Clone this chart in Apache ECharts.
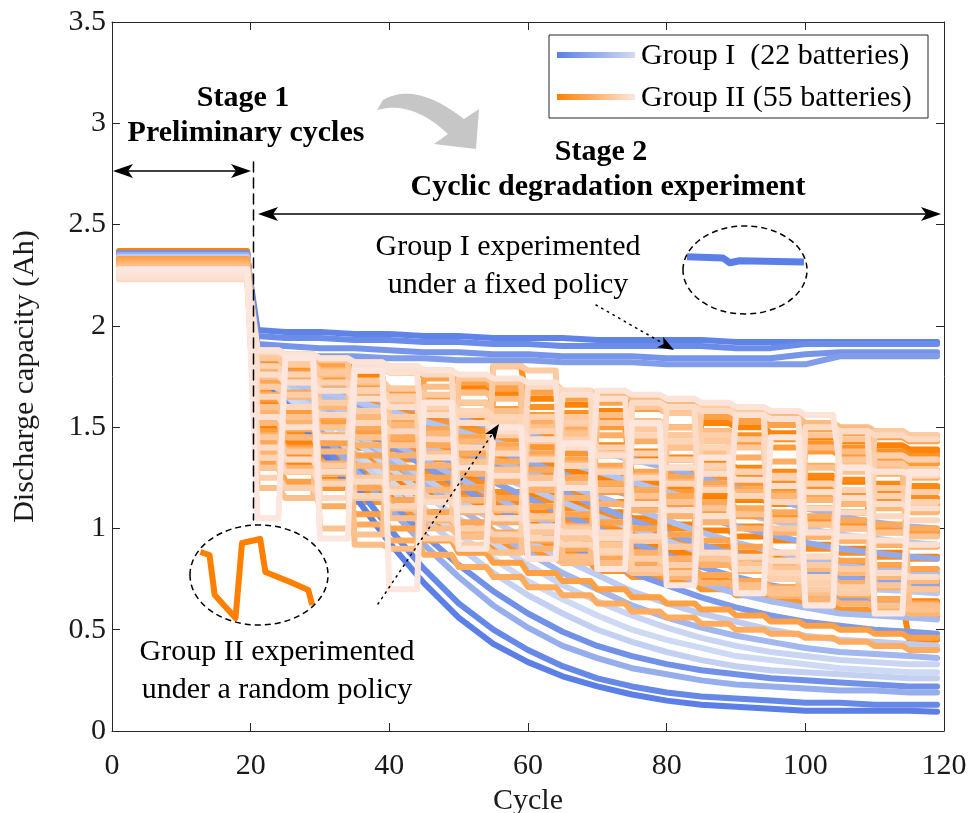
<!DOCTYPE html>
<html><head><meta charset="utf-8">
<script src="https://cdn.jsdelivr.net/npm/echarts@6/dist/echarts.min.js"></script>
<style>html,body{margin:0;padding:0;background:#fff}#c{width:968px;height:813px}</style>
</head><body><div id="c"></div>
<script>
// ---------------- DATA ----------------
const xTickValues = [0, 20, 40, 60, 80, 100, 120];
const yTickValues = [0, 0.5, 1, 1.5, 2, 2.5, 3, 3.5];

// Stage 1 plateau cycles
const stage1Cycles = [1, 19.5];
// Group I sample cycles (stage 2)
const groupICycles = [21,25,30,35,40,45,50,55,60,65,70,75,80,85,90,95,100,105,110,115,119];
// Group II policy segments (stage 2)
const groupIISegStart = [21,25,30,35,40,45,50,55,60,65,70,75,80,85,90,95,100,105,110,115];
const groupIISegEnd   = [24,29,34,39,44,49,54,59,64,69,74,79,84,89,94,99,104,109,114,119];

// Group I (22 batteries): stage-1 level and stage-2 capacities
const groupIStage1 = [2.35,2.33,2.34,2.31,2.36,2.32,2.30,2.33,2.29,2.34,2.31,2.35,2.28,2.32,2.30,2.33,2.29,2.31,2.34,2.30,2.32,2.28];
const groupIStage2 = [
 [1.78,1.62,1.40,1.16,0.93,0.73,0.56,0.43,0.34,0.27,0.22,0.18,0.15,0.13,0.12,0.11,0.10,0.10,0.10,0.10,0.095],
 [1.98,1.97,1.97,1.96,1.96,1.95,1.95,1.94,1.94,1.94,1.93,1.93,1.93,1.93,1.92,1.92,1.92,1.92,1.92,1.92,1.92],
 [1.79,1.64,1.44,1.22,1.00,0.80,0.63,0.50,0.40,0.32,0.26,0.22,0.19,0.17,0.16,0.15,0.14,0.14,0.13,0.13,0.13],
 [1.95,1.94,1.94,1.93,1.93,1.92,1.92,1.91,1.91,1.90,1.90,1.90,1.90,1.90,1.89,1.89,1.91,1.91,1.91,1.91,1.91],
 [1.78,1.65,1.48,1.31,1.13,0.97,0.82,0.69,0.58,0.49,0.42,0.37,0.33,0.30,0.28,0.26,0.25,0.24,0.23,0.22,0.22],
 [1.91,1.90,1.89,1.89,1.88,1.87,1.87,1.86,1.86,1.85,1.85,1.85,1.84,1.84,1.84,1.84,1.86,1.87,1.87,1.87,1.87],
 [1.81,1.72,1.61,1.51,1.41,1.31,1.21,1.11,1.02,0.93,0.85,0.78,0.72,0.66,0.61,0.57,0.54,0.52,0.50,0.49,0.48],
 [1.87,1.86,1.85,1.85,1.84,1.84,1.83,1.83,1.83,1.82,1.82,1.82,1.81,1.81,1.81,1.81,1.81,1.85,1.85,1.85,1.85],
 [1.80,1.73,1.64,1.55,1.47,1.39,1.31,1.23,1.15,1.07,1.00,0.93,0.87,0.81,0.76,0.72,0.69,0.66,0.64,0.63,0.62],
 [1.81,1.75,1.67,1.60,1.53,1.46,1.39,1.32,1.25,1.18,1.11,1.04,0.98,0.92,0.87,0.83,0.79,0.76,0.74,0.73,0.72],
 [1.80,1.75,1.69,1.63,1.57,1.51,1.45,1.39,1.33,1.27,1.21,1.16,1.11,1.06,1.01,0.97,0.93,0.90,0.88,0.86,0.85],
 [1.80,1.66,1.48,1.29,1.10,0.92,0.76,0.62,0.51,0.42,0.36,0.31,0.28,0.25,0.23,0.22,0.21,0.20,0.20,0.19,0.19],
 [1.81,1.77,1.72,1.67,1.62,1.58,1.54,1.50,1.46,1.42,1.38,1.34,1.30,1.25,1.20,1.15,1.10,1.06,1.03,1.01,1.00],
 [1.80,1.70,1.58,1.46,1.34,1.22,1.10,0.99,0.88,0.78,0.70,0.62,0.56,0.51,0.47,0.44,0.41,0.39,0.38,0.37,0.36],
 [1.79,1.71,1.61,1.52,1.43,1.34,1.25,1.16,1.07,0.99,0.92,0.85,0.79,0.73,0.68,0.64,0.61,0.58,0.57,0.56,0.55],
 [1.79,1.73,1.66,1.59,1.52,1.46,1.40,1.34,1.28,1.22,1.16,1.10,1.04,0.98,0.93,0.89,0.85,0.82,0.80,0.79,0.78],
 [1.78,1.74,1.68,1.63,1.58,1.53,1.48,1.43,1.38,1.33,1.28,1.23,1.18,1.13,1.08,1.04,1.00,0.97,0.95,0.93,0.92],
 [1.78,1.71,1.63,1.55,1.48,1.41,1.34,1.27,1.20,1.13,1.06,1.00,0.94,0.88,0.83,0.79,0.75,0.72,0.70,0.69,0.68],
 [1.78,1.69,1.58,1.47,1.36,1.25,1.14,1.04,0.94,0.85,0.77,0.69,0.63,0.58,0.54,0.50,0.47,0.45,0.44,0.43,0.42],
 [1.80,1.68,1.52,1.36,1.20,1.05,0.91,0.78,0.67,0.58,0.50,0.44,0.39,0.35,0.32,0.30,0.29,0.28,0.27,0.26,0.26],
 [1.79,1.69,1.56,1.43,1.30,1.17,1.05,0.93,0.82,0.72,0.64,0.57,0.51,0.46,0.42,0.39,0.37,0.35,0.34,0.33,0.33],
 [1.77,1.66,1.52,1.38,1.24,1.10,0.97,0.85,0.74,0.65,0.57,0.50,0.45,0.41,0.37,0.35,0.33,0.31,0.30,0.29,0.29]
];

// Group II (55 batteries): stage-1 level and capacity per 5-cycle policy segment
const groupIIStage1 = [2.36,2.35,2.37,2.34,2.36,2.33,2.35,2.34,2.36,2.32,2.35,2.33,2.34,2.31,2.35,2.32,2.33,2.30,2.34,2.31,2.32,2.29,2.33,2.30,2.31,2.28,2.32,2.29,2.30,2.27,2.31,2.28,2.29,2.26,2.30,2.27,2.28,2.25,2.29,2.26,2.27,2.24,2.28,2.25,2.26,2.24,2.27,2.25,2.26,2.23,2.27,2.24,2.25,2.26,2.28];
const groupIISegments = [
 [1.74,1.70,1.66,1.62,1.58,1.55,1.51,1.48,1.45,1.42,1.39,1.36,1.34,1.31,1.29,1.27,1.25,1.23,1.46,1.45],
 [1.66,1.61,1.56,1.51,1.47,1.42,1.38,1.35,1.31,1.28,1.25,1.22,1.19,1.16,1.14,1.12,1.10,1.08,1.38,1.38],
 [1.58,1.52,1.46,1.40,1.35,1.30,1.25,1.66,1.16,1.12,1.08,1.05,1.02,0.99,0.96,0.94,0.92,0.90,0.88,0.86],
 [1.50,1.42,1.35,1.28,1.22,1.16,1.11,1.06,1.02,0.98,0.94,0.91,0.88,0.85,0.82,0.80,0.78,0.76,0.74,0.73],
 [1.84,1.81,1.78,1.75,1.40,1.36,1.70,1.67,1.64,1.61,1.58,1.24,1.22,1.52,1.50,1.47,1.45,1.43,1.41,1.39],
 [1.46,1.38,1.30,1.22,1.15,1.08,1.02,0.97,0.93,0.89,0.85,0.82,0.79,0.76,0.73,0.71,0.69,0.67,0.65,0.64],
 [1.70,1.65,1.60,1.55,1.50,1.45,1.40,1.36,1.32,0.90,0.88,1.24,1.21,1.18,1.15,1.12,1.10,1.08,1.21,1.20],
 [1.40,1.32,1.24,1.17,1.10,1.04,0.99,0.94,0.90,0.86,0.82,0.79,0.76,0.74,0.71,0.69,0.67,0.65,0.63,0.45],
 [1.78,1.74,1.70,1.66,1.62,1.58,1.54,1.50,1.47,1.44,1.41,1.38,1.35,1.32,1.30,1.28,1.26,1.24,1.22,1.21],
 [1.62,1.56,1.50,1.44,1.39,1.34,1.29,1.25,1.21,1.17,1.13,1.10,1.07,1.04,1.01,0.98,0.96,0.94,0.92,0.92],
 [1.54,1.47,1.40,1.34,1.28,1.22,1.17,1.12,1.08,1.04,1.00,0.97,0.94,0.91,0.88,0.86,0.84,0.82,0.80,0.75],
 [1.86,1.84,1.82,1.79,1.77,1.75,1.72,1.70,1.68,1.65,1.63,1.61,1.58,1.56,1.54,1.52,1.50,1.48,1.46,1.44],
 [1.60,1.53,1.46,1.40,1.34,1.28,1.23,1.18,1.14,1.10,1.06,1.03,1.00,1.30,1.28,1.26,0.90,0.88,0.86,0.85],
 [1.76,1.72,1.67,1.62,1.58,1.54,1.50,1.46,1.42,1.39,1.36,1.33,1.30,1.27,1.25,1.23,1.21,1.19,1.17,1.15],
 [1.44,1.36,1.28,1.21,1.14,1.08,1.02,0.97,0.92,0.88,0.84,0.80,0.77,0.74,0.71,0.68,0.66,0.64,0.62,0.60],
 [1.82,1.78,1.75,1.72,1.69,1.36,1.33,1.80,1.60,1.57,1.55,1.52,1.50,1.48,1.46,1.44,1.42,1.40,1.38,1.36],
 [1.68,1.62,1.56,1.50,1.45,1.40,1.35,1.31,1.27,1.23,1.20,1.17,1.14,1.11,1.08,1.06,1.04,1.02,1.00,0.98],
 [1.36,1.28,1.20,1.13,1.07,1.01,0.96,0.91,0.87,0.83,0.79,0.76,0.73,0.70,0.67,0.64,0.62,0.60,0.58,0.56],
 [1.74,1.69,1.64,1.30,1.26,1.52,1.48,1.44,1.40,1.37,1.02,1.00,1.28,1.25,1.22,1.20,1.18,1.16,1.14,1.12],
 [1.52,1.45,1.38,1.32,1.26,1.20,1.15,1.10,1.06,1.02,0.98,0.95,0.92,0.89,0.86,0.83,0.81,0.79,0.77,0.76],
 [1.80,1.77,1.74,1.71,1.68,1.65,1.62,1.59,1.56,1.53,1.50,1.20,1.18,1.44,1.42,1.40,1.38,1.36,1.34,1.32],
 [1.48,1.40,1.33,1.26,1.20,1.14,1.09,1.04,1.00,0.96,0.92,0.88,0.85,0.82,0.79,0.76,0.74,0.72,0.70,0.69],
 [1.64,1.58,1.52,1.47,1.42,1.37,1.33,1.29,1.25,1.21,1.18,1.15,1.12,1.09,1.06,1.04,1.02,1.00,0.98,0.97],
 [1.32,1.23,1.15,1.07,1.00,0.94,0.88,0.83,0.78,0.74,0.70,0.66,0.63,0.60,0.57,0.54,0.52,0.50,0.48,0.46],
 [1.85,1.83,1.80,1.45,1.42,1.74,1.72,1.69,1.67,1.64,1.62,1.59,1.57,1.55,1.53,1.51,1.49,1.47,1.45,1.43],
 [1.56,1.49,1.42,1.36,1.30,1.25,1.20,1.15,1.11,1.07,1.03,1.00,0.97,0.94,0.91,0.88,0.86,0.84,0.82,0.80],
 [1.72,1.67,1.62,1.57,1.53,1.49,1.45,1.41,1.37,1.34,1.31,1.28,1.25,1.22,1.19,1.17,1.15,1.13,1.11,1.10],
 [1.42,1.34,1.27,1.20,1.14,1.08,1.03,0.98,0.94,0.90,0.86,0.83,0.80,0.77,0.74,0.71,0.69,0.67,0.65,0.63],
 [1.66,1.60,1.55,1.50,1.45,1.41,1.37,1.33,1.29,1.25,1.22,1.19,1.16,1.13,1.10,1.08,1.06,1.04,1.02,1.00],
 [1.30,1.20,1.11,1.02,0.94,0.87,0.81,0.76,0.71,0.67,0.63,0.59,0.56,0.53,0.50,0.48,0.46,0.44,0.42,0.40],
 [1.78,1.74,1.71,1.67,1.64,1.61,1.58,1.55,1.52,1.49,1.46,1.43,1.40,1.37,1.35,1.33,1.31,1.29,1.27,1.25],
 [1.46,1.39,1.32,1.25,1.19,1.13,1.08,1.03,0.99,0.95,0.91,0.88,0.85,0.82,0.79,0.77,0.75,0.73,0.71,0.70],
 [1.58,1.52,1.46,1.41,1.36,1.31,1.27,1.23,1.19,1.15,1.12,1.09,1.06,1.03,1.00,0.98,0.96,0.94,0.92,0.91],
 [1.38,1.30,1.23,1.16,1.10,1.04,0.99,0.94,0.90,0.86,0.82,0.79,0.76,0.73,0.70,0.67,0.65,0.63,0.61,0.58],
 [1.70,1.65,1.60,1.55,1.51,1.47,1.43,1.39,1.35,1.32,1.29,1.26,1.23,1.20,1.18,1.16,1.14,1.12,1.10,1.08],
 [1.52,1.45,1.38,1.31,1.25,1.19,1.14,1.09,1.05,1.01,0.97,0.94,0.91,0.88,0.85,0.82,0.80,0.78,0.76,0.74],
 [1.88,1.86,1.84,1.82,1.80,1.78,1.75,1.73,1.71,1.68,1.66,1.64,1.61,1.59,1.57,1.55,1.52,1.50,1.48,1.46],
 [1.86,1.82,1.78,0.92,0.90,1.70,1.67,1.64,0.85,0.83,1.56,1.53,1.50,1.48,0.72,0.70,1.40,1.38,1.36,1.34],
 [1.20,1.15,1.76,1.72,1.05,1.00,0.96,1.58,1.55,0.86,0.83,0.80,1.46,1.43,0.72,0.70,0.68,1.32,1.30,0.62],
 [1.75,1.72,1.00,0.97,1.62,1.58,0.90,0.88,1.50,1.47,0.80,0.78,1.40,1.38,0.70,0.68,1.30,1.28,0.62,0.60],
 [1.60,1.55,1.50,1.45,1.41,1.37,1.33,1.29,1.25,1.22,1.19,1.16,1.13,1.10,1.07,1.04,1.02,1.00,0.98,0.96],
 [1.30,1.86,1.83,1.15,1.10,1.05,1.74,1.72,0.98,0.95,0.92,1.60,1.57,0.85,0.82,0.80,1.46,1.44,0.72,0.70],
 [1.84,1.81,1.77,1.73,1.69,1.66,1.62,1.10,1.06,1.55,1.52,1.49,1.46,1.43,1.40,1.00,0.98,1.34,1.32,1.29],
 [1.45,1.38,1.31,1.25,1.20,1.15,1.10,1.80,1.78,1.00,0.97,0.94,0.91,1.60,1.58,0.84,0.82,0.80,1.48,1.46],
 [1.70,1.66,1.62,1.58,1.55,0.95,0.92,1.46,1.43,1.40,1.37,0.80,0.78,1.30,1.28,1.26,0.70,0.68,1.20,1.18],
 [1.25,1.20,1.15,1.68,1.65,1.05,1.00,0.97,1.55,1.52,0.88,0.85,0.82,1.46,1.44,0.75,0.73,0.71,1.36,1.34],
 [1.80,1.76,1.72,1.68,1.64,1.60,1.56,1.52,1.48,1.44,1.40,1.37,1.34,1.31,1.28,1.25,1.22,1.19,1.16,1.13],
 [1.35,1.28,1.22,1.16,1.11,1.62,1.58,1.55,0.95,0.92,0.89,1.46,1.43,1.40,0.80,0.78,0.76,1.30,1.28,1.26],
 [1.65,1.60,1.56,1.52,1.48,1.44,1.40,1.37,1.34,1.31,1.28,1.25,1.22,1.19,1.16,1.13,1.10,1.08,1.06,1.04],
 [1.87,1.85,1.15,1.80,1.78,1.76,1.10,1.05,1.70,1.68,0.98,0.96,1.60,1.58,1.56,0.88,0.86,1.48,1.46,1.44],
 [1.40,1.34,1.28,1.23,1.18,1.13,1.09,1.05,1.01,0.98,0.95,1.62,1.60,0.88,0.86,0.84,1.50,1.48,0.78,0.76],
 [1.76,1.72,1.68,1.64,1.60,1.56,1.52,1.48,1.44,1.40,1.36,1.33,1.30,1.27,1.24,1.21,1.18,1.15,1.12,1.10],
 [1.55,1.50,1.45,1.80,1.77,1.35,1.30,1.26,1.22,1.66,1.64,1.12,1.09,1.06,1.56,1.54,0.98,0.96,0.94,0.92],
 [1.88,1.86,1.84,1.82,1.80,1.78,1.76,1.74,1.72,1.20,1.68,1.66,1.64,1.62,1.60,1.58,1.56,1.30,1.28,1.27],
 [1.05,1.84,0.95,1.78,0.70,1.62,0.90,1.50,0.85,1.42,0.80,1.52,0.72,1.35,0.68,1.45,0.62,1.30,0.58,1.28]
];

// Magnified insets (schematic units inside each ellipse)
const insetIX = [0, 3.7, 4.4, 5.4, 8, 12];
const insetIY = [0.58, 0.55, 0.43, 0.48, 0.47, 0.45];
const insetIIX = [0.8, 1.5, 1.9, 3.5, 4.0, 5.4, 5.8, 7.7, 9.1, 9.4];
const insetIIY = [0.78, 0.75, 0.35, 0.12, 0.87, 0.91, 0.58, 0.48, 0.40, 0.25];

// ---------------- STYLE / BUILD ----------------
const FONT = '"Liberation Serif","Times New Roman",serif';
const AX = '#262626';
function lerpColor(a, b, t) {
  const c = a.map((v, i) => Math.round(v + (b[i] - v) * t));
  return 'rgb(' + c.join(',') + ')';
}
const BLUE_DARK = [91,127,230], BLUE_LIGHT = [206,217,243];
const OR_DARK = [255,128,0], OR_LIGHT = [252,230,221];

function blueSeries(i) {
  const pts = stage1Cycles.map(c => [c, groupIStage1[i]]);
  groupIStage2[i].forEach((v, j) => pts.push([groupICycles[j], v]));
  return { type: 'line', data: pts, symbol: 'none', silent: true, z: 2,
    lineStyle: { width: 6, color: lerpColor(BLUE_DARK, BLUE_LIGHT, i / (groupIStage2.length - 1)), join: 'round', cap: 'round' } };
}
function orangeSeries(i) {
  const pts = stage1Cycles.map(c => [c, groupIIStage1[i]]);
  groupIISegments[i].forEach((v, j) => { pts.push([groupIISegStart[j], v]); pts.push([groupIISegEnd[j], v]); });
  const t = Math.pow(i / (groupIISegments.length - 1), 1.35);
  return { type: 'line', data: pts, symbol: 'none', silent: true, z: 2,
    lineStyle: { width: 6, color: lerpColor(OR_DARK, OR_LIGHT, t), join: 'round', cap: 'round' } };
}
const series = [];
// drawing order: darker Group II batteries, Group I batteries, lighter Group II batteries
for (let i = 0; i < 22; i++) series.push(orangeSeries(i));
for (let i = 0; i < groupIStage2.length; i++) series.push(blueSeries(i));
for (let i = 22; i < groupIISegments.length; i++) series.push(orangeSeries(i));

series.push({ type: 'line', xAxisIndex: 2, yAxisIndex: 2, data: insetIX.map((x, i) => [x, insetIY[i]]), symbol: 'none', silent: true, z: 5,
  lineStyle: { width: 7, color: '#5b7fe6', join: 'round' } });
series.push({ type: 'line', xAxisIndex: 3, yAxisIndex: 3, data: insetIIX.map((x, i) => [x, insetIIY[i]]), symbol: 'none', silent: true, z: 5,
  lineStyle: { width: 6, color: '#ff8000', join: 'round' } });

function head(tx, ty, ux, uy, L, W, b) {
  const nx = -uy, ny = ux;
  return [[tx, ty], [tx - L*ux + W*nx, ty - L*uy + W*ny], [tx - (L-b)*ux, ty - (L-b)*uy], [tx - L*ux - W*nx, ty - L*uy - W*ny]];
}
function unit(x1, y1, x2, y2) { const d = Math.hypot(x2-x1, y2-y1); return [(x2-x1)/d, (y2-y1)/d]; }
function quad(p0, c, p1, n) {
  const out = [];
  for (let k = 0; k <= n; k++) {
    const t = k / n, a = (1-t)*(1-t), b = 2*(1-t)*t, d = t*t;
    out.push([a*p0[0] + b*c[0] + d*p1[0], a*p0[1] + b*c[1] + d*p1[1]]);
  }
  return out;
}

const txt = (t, x, y, bold, align) => ({ type: 'text', z: 50, style: { text: t, x: x, y: y, align: align || 'center', verticalAlign: 'middle',
  fontSize: 30, fontFamily: FONT, fontWeight: bold ? 'bold' : 'normal', fill: '#000' } });
const ln = (x1, y1, x2, y2, dash, w) => ({ type: 'line', z: 50, shape: { x1, y1, x2, y2 }, style: { stroke: '#000', lineWidth: w || 1.5, lineDash: dash || null, lineCap: 'round' } });
const poly = pts => ({ type: 'polygon', z: 51, shape: { points: pts }, style: { fill: '#000' } });

const u1 = unit(596, 305, 673, 349);
const u2 = unit(378, 604, 499, 424);

const grayArrowPts = [].concat(
  quad([383, 100], [415, 81], [464, 119], 16),
  [[479, 109], [476, 149], [434, 144]],
  quad([448, 134], [412, 100], [377, 110], 16)
);

const graphic = [
  // Stage 1
  txt('Stage 1', 243, 98, true), txt('Preliminary cycles', 246, 133, true),
  ln(125, 171, 240, 171, null, 1.5), poly(head(113, 171, -1, 0, 20, 7, 5)), poly(head(251, 171, 1, 0, 20, 7, 5)),
  ln(253.5, 162, 253.5, 520, [10, 6], 1.5),
  // Stage 2
  txt('Stage 2', 601, 152, true), txt('Cyclic degradation experiment', 608, 187, true),
  ln(270, 214, 930, 214, null, 1.5), poly(head(258, 214, -1, 0, 20, 7, 5)), poly(head(941, 214, 1, 0, 20, 7, 5)),
  // gray curved arrow
  { type: 'polygon', z: 40, shape: { points: grayArrowPts }, style: { fill: '#c6c6c6' } },
  // Group I annotation
  txt('Group I experimented', 508, 247, false), txt('under a fixed policy', 508, 285, false),
  ln(596, 305, 673 - 12*u1[0], 349 - 12*u1[1], [1.5, 5], 1.5), poly(head(674, 350, u1[0], u1[1], 16, 6, 4)),
  { type: 'ellipse', z: 45, shape: { cx: 745, cy: 270, rx: 62, ry: 44 }, style: { fill: 'none', stroke: '#000', lineWidth: 1.5, lineDash: [6, 4] } },
  // Group II annotation
  txt('Group II experimented', 277, 652, false), txt('under a random policy', 277, 690, false),
  ln(378, 604, 499 - 12*u2[0], 424 - 12*u2[1], [1.5, 5], 1.5), poly(head(499, 424, u2[0], u2[1], 16, 6, 4)),
  { type: 'ellipse', z: 45, shape: { cx: 259, cy: 575, rx: 69, ry: 50 }, style: { fill: 'none', stroke: '#000', lineWidth: 1.5, lineDash: [6, 4] } },
  // Legend
  { type: 'rect', z: 60, shape: { x: 549, y: 35, width: 379, height: 83 }, style: { fill: '#fff', stroke: AX, lineWidth: 1 } },
  { type: 'rect', z: 61, shape: { x: 557, y: 52, width: 78, height: 6 }, style: { fill: new echarts.graphic.LinearGradient(0, 0, 1, 0, [{ offset: 0, color: '#5b7fe6' }, { offset: 1, color: '#d0daf3' }]) } },
  { type: 'rect', z: 61, shape: { x: 557, y: 94, width: 78, height: 6 }, style: { fill: new echarts.graphic.LinearGradient(0, 0, 1, 0, [{ offset: 0, color: '#ff8000' }, { offset: 1, color: '#fde6dd' }]) } },
  Object.assign(txt('Group I  (22 batteries)', 641, 56, false, 'left'), { z: 62 }),
  Object.assign(txt('Group II (55 batteries)', 641, 98, false, 'left'), { z: 62 })
];

const lab = { fontSize: 30, fontFamily: FONT, color: '#1a1a1a' };
const axisCommon = {
  axisLine: { show: true, onZero: false, lineStyle: { color: AX, width: 1 } },
  axisTick: { show: true, inside: true, length: 8, lineStyle: { color: AX, width: 1 } },
  splitLine: { show: false }
};
const chart = echarts.init(document.getElementById('c'), null, { renderer: 'canvas' });
chart.setOption({
  animation: false,
  backgroundColor: '#fff',
  grid: [
    { left: 112, right: 24, top: 22, bottom: 82, containLabel: false, outerBoundsMode: 'none' },
    { left: 687, top: 240, width: 117, height: 40, outerBoundsMode: 'none' },
    { left: 190, top: 530, width: 130, height: 100, outerBoundsMode: 'none' }
  ],
  xAxis: [
    Object.assign({ type: 'value', gridIndex: 0, position: 'bottom', min: xTickValues[0], max: xTickValues[xTickValues.length - 1], interval: xTickValues[1] - xTickValues[0],
      axisLabel: Object.assign({ margin: 20 }, lab), name: 'Cycle', nameLocation: 'middle', nameGap: 54, nameTextStyle: lab }, axisCommon),
    Object.assign({ type: 'value', gridIndex: 0, position: 'top', min: xTickValues[0], max: xTickValues[xTickValues.length - 1], interval: xTickValues[1] - xTickValues[0],
      axisLabel: { show: false } }, axisCommon),
    { type: 'value', gridIndex: 1, min: 0, max: 12, show: false },
    { type: 'value', gridIndex: 2, min: 0, max: 10, show: false }
  ],
  yAxis: [
    Object.assign({ type: 'value', gridIndex: 0, position: 'left', min: yTickValues[0], max: yTickValues[yTickValues.length - 1], interval: yTickValues[1] - yTickValues[0],
      axisLabel: Object.assign({ margin: 6 }, lab), name: 'Discharge capacity (Ah)', nameLocation: 'middle', nameGap: 72, nameRotate: 90, nameTextStyle: lab }, axisCommon),
    Object.assign({ type: 'value', gridIndex: 0, position: 'right', min: yTickValues[0], max: yTickValues[yTickValues.length - 1], interval: yTickValues[1] - yTickValues[0],
      axisLabel: { show: false } }, axisCommon),
    { type: 'value', gridIndex: 1, min: 0, max: 1, show: false },
    { type: 'value', gridIndex: 2, min: 0, max: 1, show: false }
  ],
  series: series,
  graphic: graphic
});
</script>
</body></html>
